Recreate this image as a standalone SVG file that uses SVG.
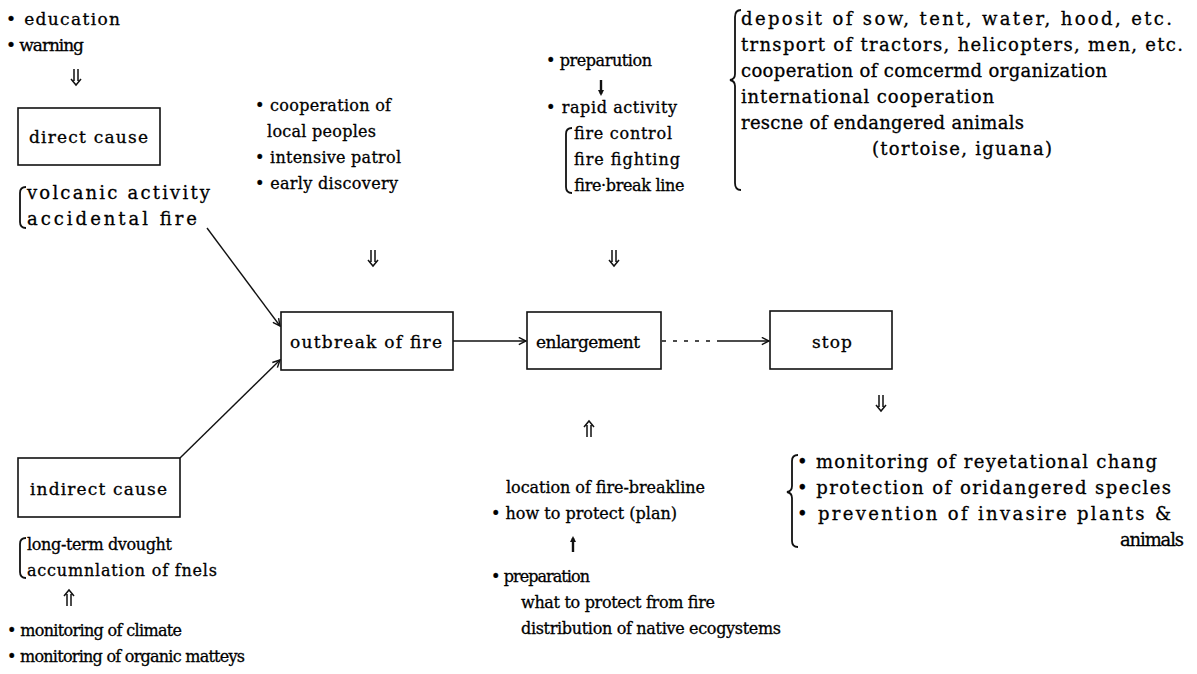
<svg xmlns="http://www.w3.org/2000/svg" xmlns:xlink="http://www.w3.org/1999/xlink" width="1197" height="674" viewBox="0 0 1197 674">
<style>
text{font-family:"DejaVu Serif","Liberation Serif",serif;font-size:16px;fill:#000;stroke:#000;stroke-width:0.3;}
.wide text{font-size:18px;}
.nl text{font-size:17px;}
.box{fill:#fff;stroke:#111;stroke-width:1.6;}
.con{fill:none;stroke:#111;stroke-width:1.4;}
.br{fill:none;stroke:#111;stroke-width:1.8;}
.ar{fill:none;stroke:#111;stroke-width:1.5;}
</style>
<defs>
<marker id="open" viewBox="0 0 10 10" refX="9" refY="5" markerWidth="9" markerHeight="9" markerUnits="userSpaceOnUse" orient="auto">
<path d="M1,1 L9,5 L1,9" fill="none" stroke="#111" stroke-width="1.6"/>
</marker>
<g id="dn"><path class="ar" d="M-2,0 V12 M2,0 V12 M-5,10 L0,16 L5,10"/></g>
<g id="up"><path class="ar" d="M-2,16 V4 M2,16 V4 M-5,6 L0,0 L5,6"/></g>
<g id="sdn"><path d="M0,0 V14" stroke="#111" stroke-width="2.4"/><path d="M-3,10 L0,16 L3,10 Z" fill="#111"/></g>
<g id="sup"><path d="M0,16 V2" stroke="#111" stroke-width="2.4"/><path d="M-3,6 L0,0 L3,6 Z" fill="#111"/></g>
</defs>
<rect width="1197" height="674" fill="#fff"/>

<g id="connectors">
<line class="con" x1="207" y1="228" x2="280" y2="326" marker-end="url(#open)"/>
<line class="con" x1="180" y1="458" x2="280" y2="360" marker-end="url(#open)"/>
<line class="con" x1="453" y1="341" x2="526" y2="341" marker-end="url(#open)"/>
<line class="con" x1="662" y1="341" x2="720" y2="341" stroke-dasharray="4,7"/>
<line class="con" x1="720" y1="341" x2="769" y2="341" marker-end="url(#open)"/>
</g>

<g id="node-direct-cause" class="nl">
<rect class="box" x="18" y="108" width="142" height="57"/>
<text x="29" y="143" textLength="119" lengthAdjust="spacing">direct cause</text>
</g>
<g id="node-outbreak" class="nl">
<rect class="box" x="281" y="312" width="172" height="58"/>
<text x="290" y="348" textLength="152" lengthAdjust="spacing">outbreak of fire</text>
</g>
<g id="node-enlargement" class="nl">
<rect class="box" x="527" y="312" width="134" height="57"/>
<text x="536" y="348" textLength="104" lengthAdjust="spacing">enlargement</text>
</g>
<g id="node-stop" class="nl">
<rect class="box" x="770" y="311" width="122" height="58"/>
<text x="812" y="348" textLength="40" lengthAdjust="spacing">stop</text>
</g>
<g id="node-indirect-cause" class="nl">
<rect class="box" x="18" y="458" width="162" height="59"/>
<text x="30" y="495" textLength="137" lengthAdjust="spacing">indirect cause</text>
</g>

<g id="notes-prevention" class="nl">
<text x="6" y="25" textLength="114" lengthAdjust="spacing">• education</text>
<text x="6" y="51" textLength="78" lengthAdjust="spacing">• warning</text>
<use xlink:href="#dn" x="76" y="69"/>
</g>

<g id="notes-direct" class="wide">
<path class="br" d="M26,187 Q20,187 20,193 L20,222 Q20,228 26,228"/>
<text x="27" y="199" textLength="183" lengthAdjust="spacing">volcanic activity</text>
<text x="27" y="225" textLength="170" lengthAdjust="spacing">accidental fire</text>
</g>

<g id="notes-discovery">
<text x="255" y="111" textLength="136" lengthAdjust="spacing">• cooperation of</text>
<text x="267" y="137" textLength="109" lengthAdjust="spacing">local peoples</text>
<text x="255" y="163" textLength="146" lengthAdjust="spacing">• intensive patrol</text>
<text x="255" y="189" textLength="143" lengthAdjust="spacing">• early discovery</text>
<use xlink:href="#dn" x="373" y="250"/>
</g>

<g id="notes-activity">
<text x="546" y="66" textLength="106" lengthAdjust="spacing">• preparution</text>
<use xlink:href="#sdn" x="601" y="80"/>
<text x="546" y="113" textLength="131" lengthAdjust="spacing">• rapid activity</text>
<path class="br" d="M572,128 Q566,128 566,134 L566,187 Q566,193 572,193"/>
<text x="574" y="139" textLength="98" lengthAdjust="spacing">fire control</text>
<text x="574" y="165" textLength="106" lengthAdjust="spacing">fire fighting</text>
<text x="574" y="191" textLength="110" lengthAdjust="spacing">fire·break line</text>
<use xlink:href="#dn" x="614" y="250"/>
</g>

<g id="notes-support" class="wide">
<path class="br" d="M741,10 Q735,10 735,17 L735,74 Q735,79 730,80 Q735,81 735,86 L735,183 Q735,190 741,190"/>
<text x="741" y="25" textLength="431" lengthAdjust="spacing">deposit of sow, tent, water, hood, etc.</text>
<text x="741" y="51" textLength="442" lengthAdjust="spacing">trnsport of tractors, helicopters, men, etc.</text>
<text x="741" y="77" textLength="366" lengthAdjust="spacing">cooperation of comcermd organization</text>
<text x="741" y="103" textLength="253" lengthAdjust="spacing">international cooperation</text>
<text x="741" y="129" textLength="283" lengthAdjust="spacing">rescne of endangered animals</text>
<text x="872" y="155" textLength="180" lengthAdjust="spacing">(tortoise, iguana)</text>
</g>

<g id="notes-plan">
<use xlink:href="#up" x="589" y="421"/>
<text x="506" y="493" textLength="199" lengthAdjust="spacing">location of fire-breakline</text>
<text x="491" y="519" textLength="186" lengthAdjust="spacing">• how to protect (plan)</text>
<use xlink:href="#sup" x="573" y="536"/>
<text x="491" y="582" textLength="99" lengthAdjust="spacing">• preparation</text>
<text x="521" y="608" textLength="194" lengthAdjust="spacing">what to protect from fire</text>
<text x="521" y="634" textLength="260" lengthAdjust="spacing">distribution of native ecogystems</text>
</g>

<g id="notes-after" class="wide">
<use xlink:href="#dn" x="881" y="395"/>
<path class="br" d="M798,455 Q792,455 792,461 L792,486 Q792,491 787,492 Q792,493 792,498 L792,541 Q792,547 798,547"/>
<text x="797" y="468" textLength="360" lengthAdjust="spacing">• monitoring of reyetational chang</text>
<text x="797" y="494" textLength="374" lengthAdjust="spacing">• protection of oridangered specles</text>
<text x="797" y="520" textLength="374" lengthAdjust="spacing">• prevention of invasire plants &amp;</text>
<text x="1120" y="546" textLength="64" lengthAdjust="spacing">animals</text>
</g>

<g id="notes-indirect">
<path class="br" d="M26,538 Q20,538 20,544 L20,572 Q20,578 26,578"/>
<text x="27" y="550" textLength="145" lengthAdjust="spacing">long-term dvought</text>
<text x="27" y="576" textLength="190" lengthAdjust="spacing">accumnlation of fnels</text>
<use xlink:href="#up" x="69" y="590"/>
<text x="7" y="636" textLength="175" lengthAdjust="spacing">• monitoring of climate</text>
<text x="7" y="662" textLength="238" lengthAdjust="spacing">• monitoring of organic matteys</text>
</g>
</svg>
